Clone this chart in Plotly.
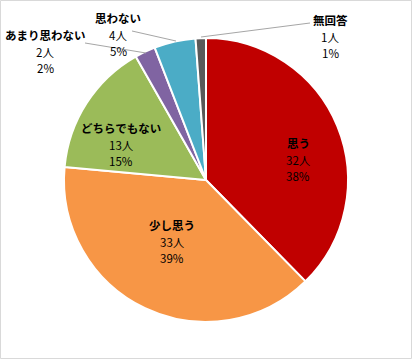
import plotly.graph_objects as go

categories = ["思う", "少し思う", "どちらでもない", "あまり思わない", "思わない", "無回答"]
counts = [32, 33, 13, 2, 4, 1]
percents = [38, 39, 15, 2, 5, 1]
colors = ["#C00000", "#F79646", "#9BBB59", "#8064A2", "#4BACC6", "#595959"]

W, H = 413, 359

# label placement: (x center, y of first line) in pixels
label_pos = {
    "思う": (298, 143),
    "少し思う": (172, 225),
    "どちらでもない": (121, 128),
    "あまり思わない": (45, 35),
    "思わない": (118, 18),
    "無回答": (330, 20),
}
line_offsets = [0, 17, 33]
leaders = {
    "あまり思わない": [(85, 43), (146, 53)],
    "思わない": [(132, 31), (176, 41)],
    "無回答": [(310, 23), (201, 37)],
}

fig = go.Figure()
fig.add_trace(go.Pie(
    labels=categories,
    values=counts,
    sort=False,
    direction="clockwise",
    rotation=0,
    marker=dict(colors=colors, line=dict(color="white", width=2)),
    textinfo="none",
    hoverinfo="label+value+percent",
    showlegend=False,
    domain=dict(x=[64 / W, 348 / W], y=[1 - 322 / H, 1 - 38 / H]),
))

font_family = "Noto Sans CJK JP, Meiryo, sans-serif"
annotations = []
for cat, n, p in zip(categories, counts, percents):
    px, py = label_pos[cat]
    texts = [f"<b>{cat}</b>", f"{n}人", f"{p}%"]
    for t, off in zip(texts, line_offsets):
        annotations.append(dict(
            x=px / W, y=1 - (py + off) / H, xref="paper", yref="paper",
            text=t, showarrow=False, align="center", borderpad=0,
            font=dict(family=font_family, size=11.5, color="#000000"),
            xanchor="center", yanchor="middle",
        ))

shapes = [dict(type="rect", xref="paper", yref="paper", x0=0.5 / W, y0=0.5 / H,
               x1=1 - 1.5 / W, y1=1 - 0.5 / H, line=dict(color="#D9D9D9", width=1))]
for cat, pts in leaders.items():
    (x0, y0), (x1, y1) = pts
    shapes.append(dict(type="line", xref="paper", yref="paper",
                       x0=x0 / W, y0=1 - y0 / H, x1=x1 / W, y1=1 - y1 / H,
                       line=dict(color="#A6A6A6", width=1)))

fig.update_layout(
    width=W, height=H,
    margin=dict(l=0, r=0, t=0, b=0),
    paper_bgcolor="white",
    plot_bgcolor="white",
    annotations=annotations,
    shapes=shapes,
    font=dict(family=font_family),
)

fig.write_html("out.html", config={"displayModeBar": False},
               post_script="document.body.style.margin='0px';document.body.style.padding='0px';")
